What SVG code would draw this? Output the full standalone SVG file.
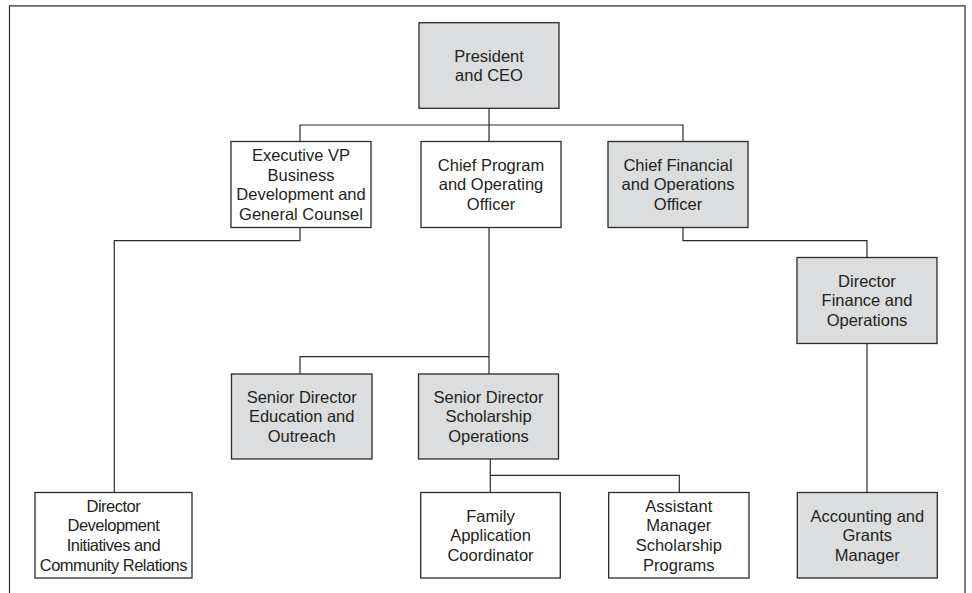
<svg xmlns="http://www.w3.org/2000/svg" width="972" height="593" viewBox="0 0 972 593">
<style>
.box{stroke:#2b2b2b;stroke-width:1.3}
.g{fill:#dcdddf}
.w{fill:#ffffff}
text{font-family:"Liberation Sans",Arial,sans-serif;font-size:16.5px;fill:#231f20;text-anchor:middle}
.c{fill:none;stroke:#2b2b2b;stroke-width:1.2}
</style>
<rect x="0" y="0" width="972" height="593" fill="#ffffff"/>
<path class="c" d="M9.5,593 V5.8 H965 V593"/>
<g id="connectors">
<path class="c" d="M489,108.3 V141.5"/>
<path class="c" d="M300,141.5 V125 H683 V141.5"/>
<path class="c" d="M300,227.5 V240.7 H114.3 V492.5"/>
<path class="c" d="M683,227.5 V240.7 H867 V257.5"/>
<path class="c" d="M489,227.5 V374"/>
<path class="c" d="M300,374 V356.7 H489"/>
<path class="c" d="M490.3,459 V492.5"/>
<path class="c" d="M490.3,475.3 H679.3 V492.5"/>
<path class="c" d="M867,343.3 V492.5"/>
</g>
<g id="president">
<rect class="box g" x="419" y="22.7" width="140" height="85.6"/>
<text x="489" y="61.8">President</text>
<text x="489" y="81.4">and CEO</text>
</g>
<g id="exec-vp">
<rect class="box w" x="231" y="141.5" width="140" height="86"/>
<text x="301" y="161">Executive VP</text>
<text x="301" y="180.6">Business</text>
<text x="301" y="200.2">Development and</text>
<text x="301" y="219.8">General Counsel</text>
</g>
<g id="chief-program">
<rect class="box w" x="421" y="141.5" width="140" height="86"/>
<text x="491" y="170.8">Chief Program</text>
<text x="491" y="190.4">and Operating</text>
<text x="491" y="210">Officer</text>
</g>
<g id="cfo">
<rect class="box g" x="608" y="141.5" width="140" height="86"/>
<text x="678" y="170.8">Chief Financial</text>
<text x="678" y="190.4">and Operations</text>
<text x="678" y="210">Officer</text>
</g>
<g id="director-finance">
<rect class="box g" x="797" y="257.5" width="140" height="86"/>
<text x="867" y="286.8">Director</text>
<text x="867" y="306.4">Finance and</text>
<text x="867" y="326">Operations</text>
</g>
<g id="senior-education">
<rect class="box g" x="231.5" y="374" width="140.5" height="85"/>
<text x="301.7" y="402.8">Senior Director</text>
<text x="301.7" y="422.4">Education and</text>
<text x="301.7" y="442">Outreach</text>
</g>
<g id="senior-scholarship">
<rect class="box g" x="418.5" y="374" width="140" height="85"/>
<text x="488.5" y="402.8">Senior Director</text>
<text x="488.5" y="422.4">Scholarship</text>
<text x="488.5" y="442">Operations</text>
</g>
<g id="director-development" letter-spacing="-0.5">
<rect class="box w" x="35" y="492.5" width="157" height="85.5"/>
<text x="113.4" y="511.7">Director</text>
<text x="113.4" y="531.3">Development</text>
<text x="113.4" y="550.9">Initiatives and</text>
<text x="113.4" y="570.5">Community Relations</text>
</g>
<g id="family-coordinator">
<rect class="box w" x="420.7" y="492.5" width="139.6" height="85.5"/>
<text x="490.5" y="521.6">Family</text>
<text x="490.5" y="541.2">Application</text>
<text x="490.5" y="560.8">Coordinator</text>
</g>
<g id="assistant-manager">
<rect class="box w" x="608.7" y="492.5" width="140.3" height="85.5"/>
<text x="678.8" y="511.7">Assistant</text>
<text x="678.8" y="531.3">Manager</text>
<text x="678.8" y="550.9">Scholarship</text>
<text x="678.8" y="570.5">Programs</text>
</g>
<g id="accounting-manager">
<rect class="box g" x="797.3" y="492.5" width="140" height="85.5"/>
<text x="867.3" y="521.6">Accounting and</text>
<text x="867.3" y="541.2">Grants</text>
<text x="867.3" y="560.8">Manager</text>
</g>
</svg>
